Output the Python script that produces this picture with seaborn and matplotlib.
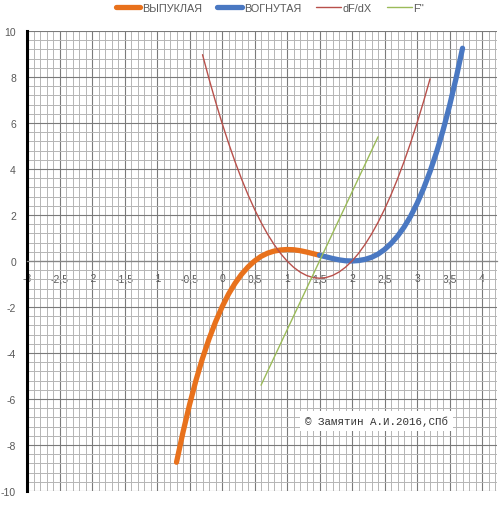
import numpy as np
import pandas as pd
import matplotlib
matplotlib.use("Agg")
import matplotlib.pyplot as plt
import seaborn as sns
from matplotlib.ticker import MultipleLocator, FixedLocator, FixedFormatter

# ---- data ----
x_convex = [-0.7, -0.6, -0.5, -0.4, -0.3, -0.2, -0.1, 0.0, 0.1, 0.2, 0.3, 0.4,
            0.5, 0.6, 0.7, 0.8, 0.9, 1.0, 1.1, 1.2, 1.3, 1.4, 1.5]
y_convex = [-8.75, -7.44, -6.25, -5.18, -4.23, -3.39, -2.65, -2.0, -1.44, -0.97,
            -0.58, -0.26, 0.0, 0.20, 0.34, 0.43, 0.48, 0.50, 0.49, 0.45, 0.39,
            0.32, 0.25]

x_concave = [1.5, 1.6, 1.7, 1.8, 1.9, 2.0, 2.1, 2.2, 2.3, 2.4, 2.5, 2.6, 2.7,
             2.8, 2.9, 3.0, 3.1, 3.2, 3.3, 3.4, 3.5, 3.6, 3.7]
y_concave = [0.25, 0.18, 0.11, 0.05, 0.01, 0.0, 0.02, 0.07, 0.16, 0.30, 0.50,
             0.76, 1.08, 1.47, 1.94, 2.50, 3.15, 3.89, 4.73, 5.68, 6.75, 7.94,
             9.25]

x_deriv = [-0.3, -0.2, -0.1, 0.0, 0.1, 0.2, 0.3, 0.4, 0.5, 0.6, 0.7, 0.8, 0.9,
           1.0, 1.1, 1.2, 1.3, 1.4, 1.5, 1.6, 1.7, 1.8, 1.9, 2.0, 2.1, 2.2, 2.3,
           2.4, 2.5, 2.6, 2.7, 2.8, 2.9, 3.0, 3.1, 3.2]
y_deriv = [8.97, 7.92, 6.93, 6.0, 5.13, 4.32, 3.57, 2.88, 2.25, 1.68, 1.17, 0.72,
           0.33, 0.0, -0.27, -0.48, -0.63, -0.72, -0.75, -0.72, -0.63, -0.48,
           -0.27, 0.0, 0.33, 0.72, 1.17, 1.68, 2.25, 2.88, 3.57, 4.32, 5.13,
           6.0, 6.93, 7.92]

x_second = [0.6, 1.0, 1.5, 2.0, 2.4]
y_second = [-5.4, -3.0, 0.0, 3.0, 5.4]

series_names = ["ВЫПУКЛАЯ", "ВОГНУТАЯ", "dF/dX", "F''"]
xtick_values = [-3, -2.5, -2, -1.5, -1, -0.5, 0, 0.5, 1, 1.5, 2, 2.5, 3, 3.5, 4]
xtick_labels = ["-3", "-2,5", "-2", "-1,5", "-1", "-0,5", "0", "0,5", "1",
                "1,5", "2", "2,5", "3", "3,5", "4"]
ytick_values = [-10, -8, -6, -4, -2, 0, 2, 4, 6, 8, 10]
ytick_labels = ["-10", "-8", "-6", "-4", "-2", "0", "2", "4", "6", "8", "10"]
note = "© Замятин А.И.2016,СПб"

# ---- style ----
sns.set_style("white")
plt.rcParams['font.family'] = ['Liberation Sans', 'DejaVu Sans']

colors = ["#E8711C", "#4A78C2", "#B8504B", "#9BBB59"]
widths = [3.8, 3.8, 1.0, 1.0]

fig = plt.figure(figsize=(5.0, 5.1), dpi=100)
ax = fig.add_axes([27/500, 1 - 492/510, 470/500, 460/510])

datasets = [(x_convex, y_convex), (x_concave, y_concave),
            (x_deriv, y_deriv), (x_second, y_second)]
for (xs, ys), name, c, lw in zip(datasets, series_names, colors, widths):
    df = pd.DataFrame({"x": xs, "y": ys})
    sns.lineplot(data=df, x="x", y="y", ax=ax, color=c, linewidth=lw,
                 sort=False, label=name, solid_capstyle="round", zorder=3)

ax.set_xlim(-3, 4.23)
ax.set_ylim(-10, 10)
ax.set_xlabel("")
ax.set_ylabel("")

ax.xaxis.set_major_locator(FixedLocator(xtick_values))
ax.xaxis.set_major_formatter(FixedFormatter(xtick_labels))
ax.yaxis.set_major_locator(FixedLocator(ytick_values))
ax.yaxis.set_major_formatter(FixedFormatter(ytick_labels))
ax.xaxis.set_minor_locator(MultipleLocator(0.1))
ax.yaxis.set_minor_locator(MultipleLocator(0.4))

ax.grid(which="minor", color="#B5B5B5", linewidth=0.7, zorder=0)
ax.grid(which="major", color="#7A7A7A", linewidth=0.8, zorder=0)
ax.set_axisbelow(True)

for s in ["top", "right"]:
    ax.spines[s].set_visible(False)
ax.spines["bottom"].set_position(("data", 0))
ax.spines["bottom"].set_color("#868686")
ax.spines["bottom"].set_linewidth(0.9)
ax.spines["left"].set_color("black")
ax.spines["left"].set_linewidth(2.2)

ax.tick_params(axis="x", which="both", length=0, pad=9, labelsize=7.5,
               labelcolor="#595959")
ax.tick_params(axis="y", which="both", length=0, pad=8, labelsize=7.5,
               labelcolor="#595959")

h, l = ax.get_legend_handles_labels()
ax.get_legend().remove()
fig.legend(h, l, loc="center", bbox_to_anchor=(0.54, 1 - 9/510), ncol=4,
           frameon=False, fontsize=7.8, handlelength=2.3, columnspacing=1.4,
           handletextpad=0.15, labelcolor="#595959")

fig.text(305/500, 1 - 422/510, note, family=["Liberation Mono", "DejaVu Sans Mono"],
         fontsize=7.8, color="#333333", va="center", ha="left",
         bbox=dict(facecolor="white", edgecolor="none", pad=3.5), zorder=5)

fig.savefig("out.png", dpi=100)
